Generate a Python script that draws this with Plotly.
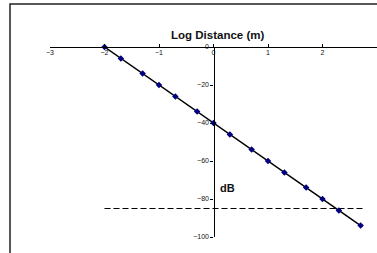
import plotly.graph_objects as go

log_distance = [-2.0, -1.7, -1.3, -1.0, -0.7, -0.3, 0.0, 0.3, 0.7, 1.0, 1.3, 1.7, 2.0, 2.3, 2.7]
db_values = [0, -6, -14, -20, -26, -34, -40, -46, -54, -60, -66, -74, -80, -86, -94]
threshold_x = [-2.0, 2.75]
threshold_db = [-85, -85]
x_ticks = [-3, -2, -1, 0, 1, 2, 3]
y_ticks = [-100, -80, -60, -40, -20, 0]

W, H = 377, 253
PL, PR, PT, PB = 50, 377, 47, 237  # plot area in page pixels
ML, MT, MR, MB = PL, PT, W - PR, H - PB
PW, PH = PR - PL, PB - PT

def px_x(p):
    return (p - PL) / PW

def px_y(p):
    return (PB - p) / PH

fig = go.Figure()
fig.add_trace(go.Scatter(x=threshold_x, y=threshold_db, mode="lines",
                         line=dict(color="black", width=1.2, dash="6px,3px"),
                         showlegend=False, hoverinfo="skip", cliponaxis=False))
fig.add_trace(go.Scatter(x=log_distance, y=db_values, mode="lines+markers",
                         line=dict(color="black", width=1.5),
                         marker=dict(symbol="diamond", size=5, color="#000080"),
                         showlegend=False, cliponaxis=False))

tickfont = dict(family="Liberation Sans, Arial, sans-serif", size=7, color="#111")
fig.update_layout(
    width=W, height=H,
    margin=dict(l=ML, r=MR, t=MT, b=MB, autoexpand=False),
    paper_bgcolor="white", plot_bgcolor="white",
    xaxis=dict(range=[-3, 3], anchor="free", position=1, side="bottom",
               tickvals=x_ticks, showline=True,
               linecolor="black", linewidth=1.3, ticks="inside", ticklen=3,
               tickcolor="black", showgrid=False, ticklabelstandoff=-2,
               zeroline=False, tickfont=tickfont),
    yaxis=dict(range=[-100, 0], anchor="free", position=0.5, tickvals=y_ticks,
               showline=True, linecolor="black", linewidth=1.3, ticks="outside",
               ticklen=3, tickcolor="black", showgrid=False, zeroline=False,
               tickfont=tickfont),
    shapes=[dict(type="rect", xref="paper", yref="paper",
                 x0=px_x(10), y0=px_y(4), x1=px_x(420), y1=px_y(290),
                 line=dict(color="#222", width=1.5), layer="below")],
    annotations=[
        dict(text="<b>Log Distance (m)</b>", xref="paper", yref="paper",
             x=px_x(217), y=px_y(35), xanchor="center", yanchor="middle",
             showarrow=False,
             font=dict(family="Liberation Sans, Arial, sans-serif", size=11.5, color="#111")),
        dict(text="<b>dB</b>", xref="paper", yref="paper",
             x=px_x(227), y=px_y(188), xanchor="center", yanchor="middle",
             showarrow=False,
             font=dict(family="Liberation Sans, Arial, sans-serif", size=11, color="#111")),
    ],
)
fig.write_html("out.html", config={"displayModeBar": False},
               post_script="document.body.style.margin='0';")
